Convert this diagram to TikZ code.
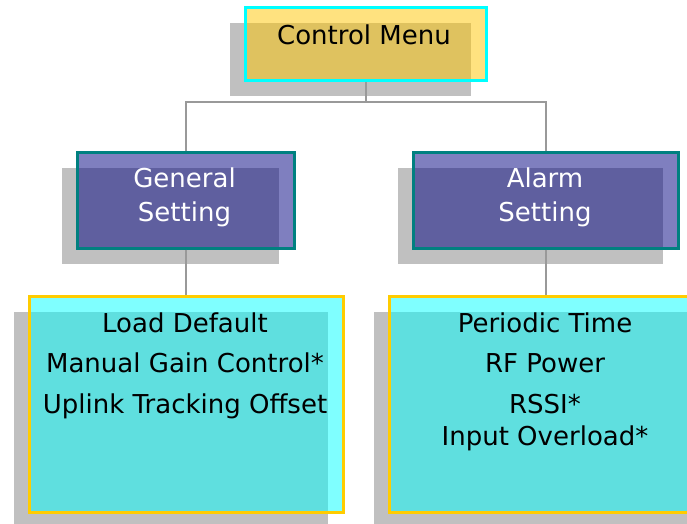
\documentclass[tikz,border=0pt]{standalone}
\usepackage{fontspec}
\setmainfont{DejaVu Sans}
\usepackage{xcolor}
\definecolor{menufill}{HTML}{FFC500}
\definecolor{menuline}{HTML}{00FFFF}
\definecolor{setfill}{HTML}{000080}
\definecolor{setline}{HTML}{008080}
\definecolor{listfill}{HTML}{00FFFF}
\definecolor{listline}{HTML}{FFCC00}
\definecolor{shade}{HTML}{C0C0C0}
\definecolor{wire}{HTML}{999999}
\usetikzlibrary{shadows}

\begin{document}
\begin{tikzpicture}[x=1pt,y=-1pt,
  box/.style={rectangle,anchor=north west,inner sep=0pt,line width=2.5pt,
    fill opacity=0.5,
    drop shadow={opacity=1,fill=shade,draw=none,shadow xshift=-15pt,shadow yshift=-16pt}},
  item/.style={anchor=base,inner sep=0pt,font=\fontsize{26}{30}\selectfont},
  link/.style={wire,line width=2.5pt}]
  \useasboundingbox (0,0) rectangle (687,523);

  % boxes
  \node[box,draw=menuline,fill=menufill,minimum width=241pt,minimum height=73pt] (menu) at (244,6) {};
  \node[box,draw=setline,fill=setfill,minimum width=217pt,minimum height=96pt] (general) at (76,151) {};
  \node[box,draw=setline,fill=setfill,minimum width=265pt,minimum height=96pt] (alarm) at (412,151) {};
  \node[box,draw=listline,fill=listfill,minimum width=314pt,minimum height=216pt] (genlist) at (28,295) {};
  \node[box,draw=listline,fill=listfill,minimum width=314pt,minimum height=216pt] (alarmlist) at (388,295) {};

  % connectors
  \coordinate (bus) at (menu.south |- 0,102);
  \draw[link] (menu.south) -- (bus) -| (general.north);
  \draw[link] (bus) -| (alarm.north);
  \draw[link] (general.south) -- (general.south |- genlist.north);
  \draw[link] (alarm.south) -- (alarm.south |- alarmlist.north);

  % texts
  \node[item] (menutxt) at (364,44) {Control Menu};
  \foreach \y/\txt [count=\i] in {187/General,221/Setting}
    \node[item,text=white] (gen\i) at (184.5,\y) {\txt};
  \foreach \y/\txt [count=\i] in {187/Alarm,221/Setting}
    \node[item,text=white] (alm\i) at (545,\y) {\txt};
  \foreach \y/\txt [count=\i] in {332/Load Default,372/Manual Gain Control*,413/Uplink Tracking Offset}
    \node[item] (gl\i) at (185,\y) {\txt};
  \foreach \y/\txt [count=\i] in {332/Periodic Time,372/RF Power,413/RSSI*,445/Input Overload*}
    \node[item] (al\i) at (545,\y) {\txt};
\end{tikzpicture}
\end{document}
